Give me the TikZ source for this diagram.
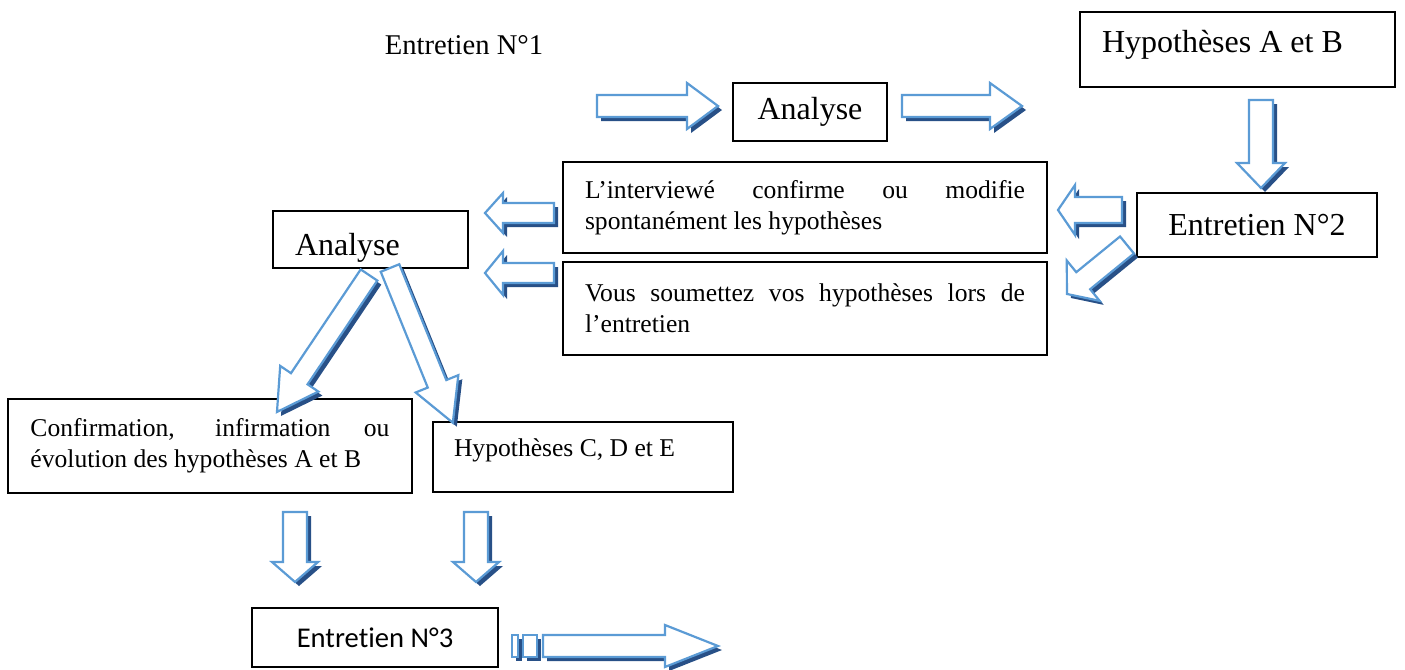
\documentclass[tikz,border=0pt]{standalone}
\usepackage{fontspec}
\setmainfont{Liberation Serif}
\newfontfamily\calibriFont[Ligatures=CommonOff]{Carlito}
\usetikzlibrary{shadows}
\definecolor{arrowBlue}{RGB}{91,155,213}
\definecolor{arrowShadow}{RGB}{40,80,135}
\newcommand{\bigText}{\fontsize{16pt}{19pt}\selectfont}
\newcommand{\smallText}{\fontsize{12.8pt}{15.5pt}\selectfont\hbadness=10000}

\tikzset{
    box/.style={draw=black, line width=0.9pt, inner sep=0pt},
    arrowline/.style={draw=arrowBlue, line width=1.1pt, fill=white, line join=miter,
        drop shadow={shadow xshift=2pt, shadow yshift=-2pt, fill=arrowShadow, opacity=1}},
    % length / shaft half width / head half width / head length
    pics/blockarrow/.style n args={4}{code={
        \draw[arrowline] (0,-#2) -- ({#1-#4},-#2) -- ({#1-#4},-#3) -- (#1,0)
            -- ({#1-#4},#3) -- ({#1-#4},#2) -- (0,#2) -- cycle;
    }}
}

\begin{document}
\begin{tikzpicture}[x=0.5pt, y=-0.5pt]
    \useasboundingbox (0,0) rectangle (1405,670);

    % boxes
    \node (entretienA) at (464,45) {\fontsize{14.3pt}{17pt}\selectfont Entretien N°1};
    \node[box, minimum width=157.5pt, minimum height=37.5pt, text width=135.5pt, align=flush left,
        text height=11pt, text depth=8pt, font=\bigText] (hypAB) at (1237.5,49.5) {Hypothèses A et B};
    \node[box, minimum width=77pt, minimum height=29pt, font=\bigText] (analyseTop) at (810,112) {Analyse};
    \node[box, minimum width=120pt, minimum height=32pt, font=\bigText] (entretienB) at (1257,225) {Entretien N°2};
    \node[box, minimum width=242pt, minimum height=45.5pt, text width=220pt, align=justify,
        font=\smallText] (confirme) at (805,207.5)
        {L’interviewé confirme ou modifie\linebreak spontanément les hypothèses};
    \node[box, minimum width=242pt, minimum height=46.5pt, text width=220pt, align=justify,
        font=\smallText] (soumettez) at (805,308.5)
        {Vous soumettez vos hypothèses lors de\linebreak l’entretien};
    \node[box, minimum width=97.5pt, minimum height=28.5pt, text width=75.5pt, align=flush left,
        text height=19pt, text depth=3.5pt, font=\bigText] (analyseLeft) at (370.5,239.5) {Analyse};
    \node[box, minimum width=202pt, minimum height=47pt, text width=179.5pt, align=justify,
        font=\smallText] (evolution) at (210,446)
        {Confirmation, infirmation ou\linebreak évolution des hypothèses A et B};
    \node[box, minimum width=150pt, minimum height=35pt, text width=129pt, align=flush left,
        text height=9pt, text depth=9.5pt, font=\smallText] (hypCDE) at (583,457) {Hypothèses C, D et E};
    \node[box, minimum width=123pt, minimum height=29.5pt, font=\calibriFont\fontsize{14.3pt}{17pt}\selectfont]
        (entretienC) at (375,637.5) {Entretien N°3};

    % block arrows
    \pic at (597,106) {blockarrow={121}{11}{23}{31}};
    \pic at (902,106) {blockarrow={120}{11}{23}{32}};
    \pic[rotate=-90] at (1261,100) {blockarrow={88}{12}{24}{25}};
    \pic[rotate=180] at (1122,210) {blockarrow={64}{13}{25}{17}};
    \pic[rotate=-140.8] at (1127,245) {blockarrow={77.5}{11}{26}{21}};
    \pic[rotate=180] at (554,213) {blockarrow={69}{10}{20}{18}};
    \pic[rotate=180] at (554,273) {blockarrow={69}{10}{22}{18}};
    \pic[rotate=-123.9] at (369,275) {blockarrow={165}{10}{23}{40}};
    \pic[rotate=-67.9] at (390,268) {blockarrow={167}{10}{23}{42}};
    \pic[rotate=-90] at (295,512) {blockarrow={70}{12}{23}{20}};
    \pic[rotate=-90] at (476,512) {blockarrow={70}{12}{23}{20}};
    \draw[arrowline] (512,635) rectangle (518,657);
    \draw[arrowline] (523,635) rectangle (537,657);
    \pic at (543,646) {blockarrow={175}{11}{21}{53}};
\end{tikzpicture}
\end{document}
